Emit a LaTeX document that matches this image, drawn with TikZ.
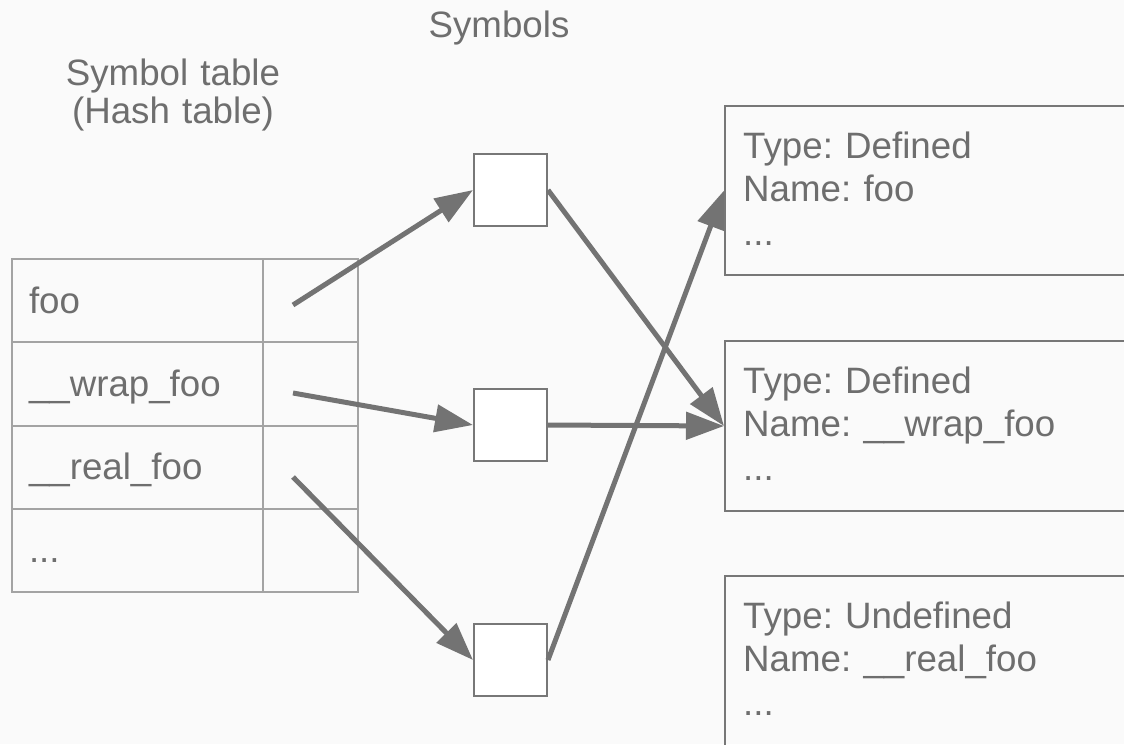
\documentclass[tikz,border=0pt]{standalone}
\usepackage{fontspec}
\setmainfont{Liberation Sans}
\usetikzlibrary{arrows.meta}
\frenchspacing

\definecolor{bg}{HTML}{FAFAFA}
\definecolor{ink}{HTML}{6E6E6E}
\definecolor{wire}{HTML}{737373}
\definecolor{frame}{HTML}{777777}
\definecolor{grid}{HTML}{A3A3A3}
\newcommand\diagfont{\fontsize{36.7pt}{43.5pt}\selectfont}

\begin{document}
\begin{tikzpicture}[x=1pt,y=-1pt,
  every node/.style={text=ink, font=\diagfont},
  cell/.style={draw=grid, line width=2pt, anchor=north west, minimum height=83.25pt,
    inner ysep=0pt, text height=31pt, text depth=6pt},
  keycell/.style={cell, inner xsep=17pt, text width=217pt, align=left},
  ptrcell/.style={cell, inner xsep=0pt, minimum width=95pt},
  symbox/.style={draw=frame, line width=2pt, fill=white, minimum width=73pt,
    minimum height=72pt, inner sep=0pt},
  infobox/.style={draw=frame, line width=2pt, anchor=north west, minimum width=430pt,
    inner sep=0pt},
  infotext/.style={anchor=base west, inner sep=0pt, text width=380pt, align=left},
  title/.style={anchor=base, inner sep=0pt},
  link/.style={draw=wire, line width=5pt, -{Triangle[length=38pt,width=27pt]}},
]
\useasboundingbox (0,0) rectangle (1124,744);
\fill[bg] (0,0) rectangle (1124,744);
\clip (0,0) rectangle (1124,744);

% headings
\node[title] (symtitle) at (499,37) {Symbols};
\node[title, text width=300pt, align=center, font=\fontsize{36.7pt}{38pt}\selectfont]
  (tabtitle) at (173,85) {Symbol table\\(Hash table)};

% hash table: key column and pointer column
\node[keycell] (k1) at (11,258)    {foo};
\node[ptrcell] (v1) at (262,258)   {};
\node[keycell] (k2) at (11,341.25) {\_\_wrap\_foo};
\node[ptrcell] (v2) at (262,341.25) {};
\node[keycell] (k3) at (11,424.5)  {\_\_real\_foo};
\node[ptrcell] (v3) at (262,424.5) {};
\node[keycell] (k4) at (11,507.75) {...};
\node[ptrcell] (v4) at (262,507.75) {};

\coordinate (p1) at (293,305);
\coordinate (p2) at (293,393);
\coordinate (p3) at (293,477);

% symbol entries
\node[symbox] (s1) at (510.5,190) {};
\node[symbox] (s2) at (510.5,425) {};
\node[symbox] (s3) at (510.5,660) {};

% symbol records
\node[infobox, minimum height=169pt] (iA) at (724,105) {};
\node[infobox, minimum height=170pt] (iB) at (724,340) {};
\node[infobox, minimum height=200pt] (iC) at (724,575) {};
\node[infotext] (tA) at (743,158) {Type: Defined\\Name: foo\\...};
\node[infotext] (tB) at (743,393) {Type: Defined\\Name: \_\_wrap\_foo\\...};
\node[infotext] (tC) at (743,628) {Type: Undefined\\Name: \_\_real\_foo\\...};

% pointers
\draw[link] (p1) -- (s1.west);
\draw[link] (p2) -- (s2.west);
\draw[link] (p3) -- (s3.west);
\draw[link] (s1.east) -- (iB.west);
\draw[link] (s2.east) -- (iB.west);
\draw[link] (s3.east) -- (iA.west);
\end{tikzpicture}
\end{document}
